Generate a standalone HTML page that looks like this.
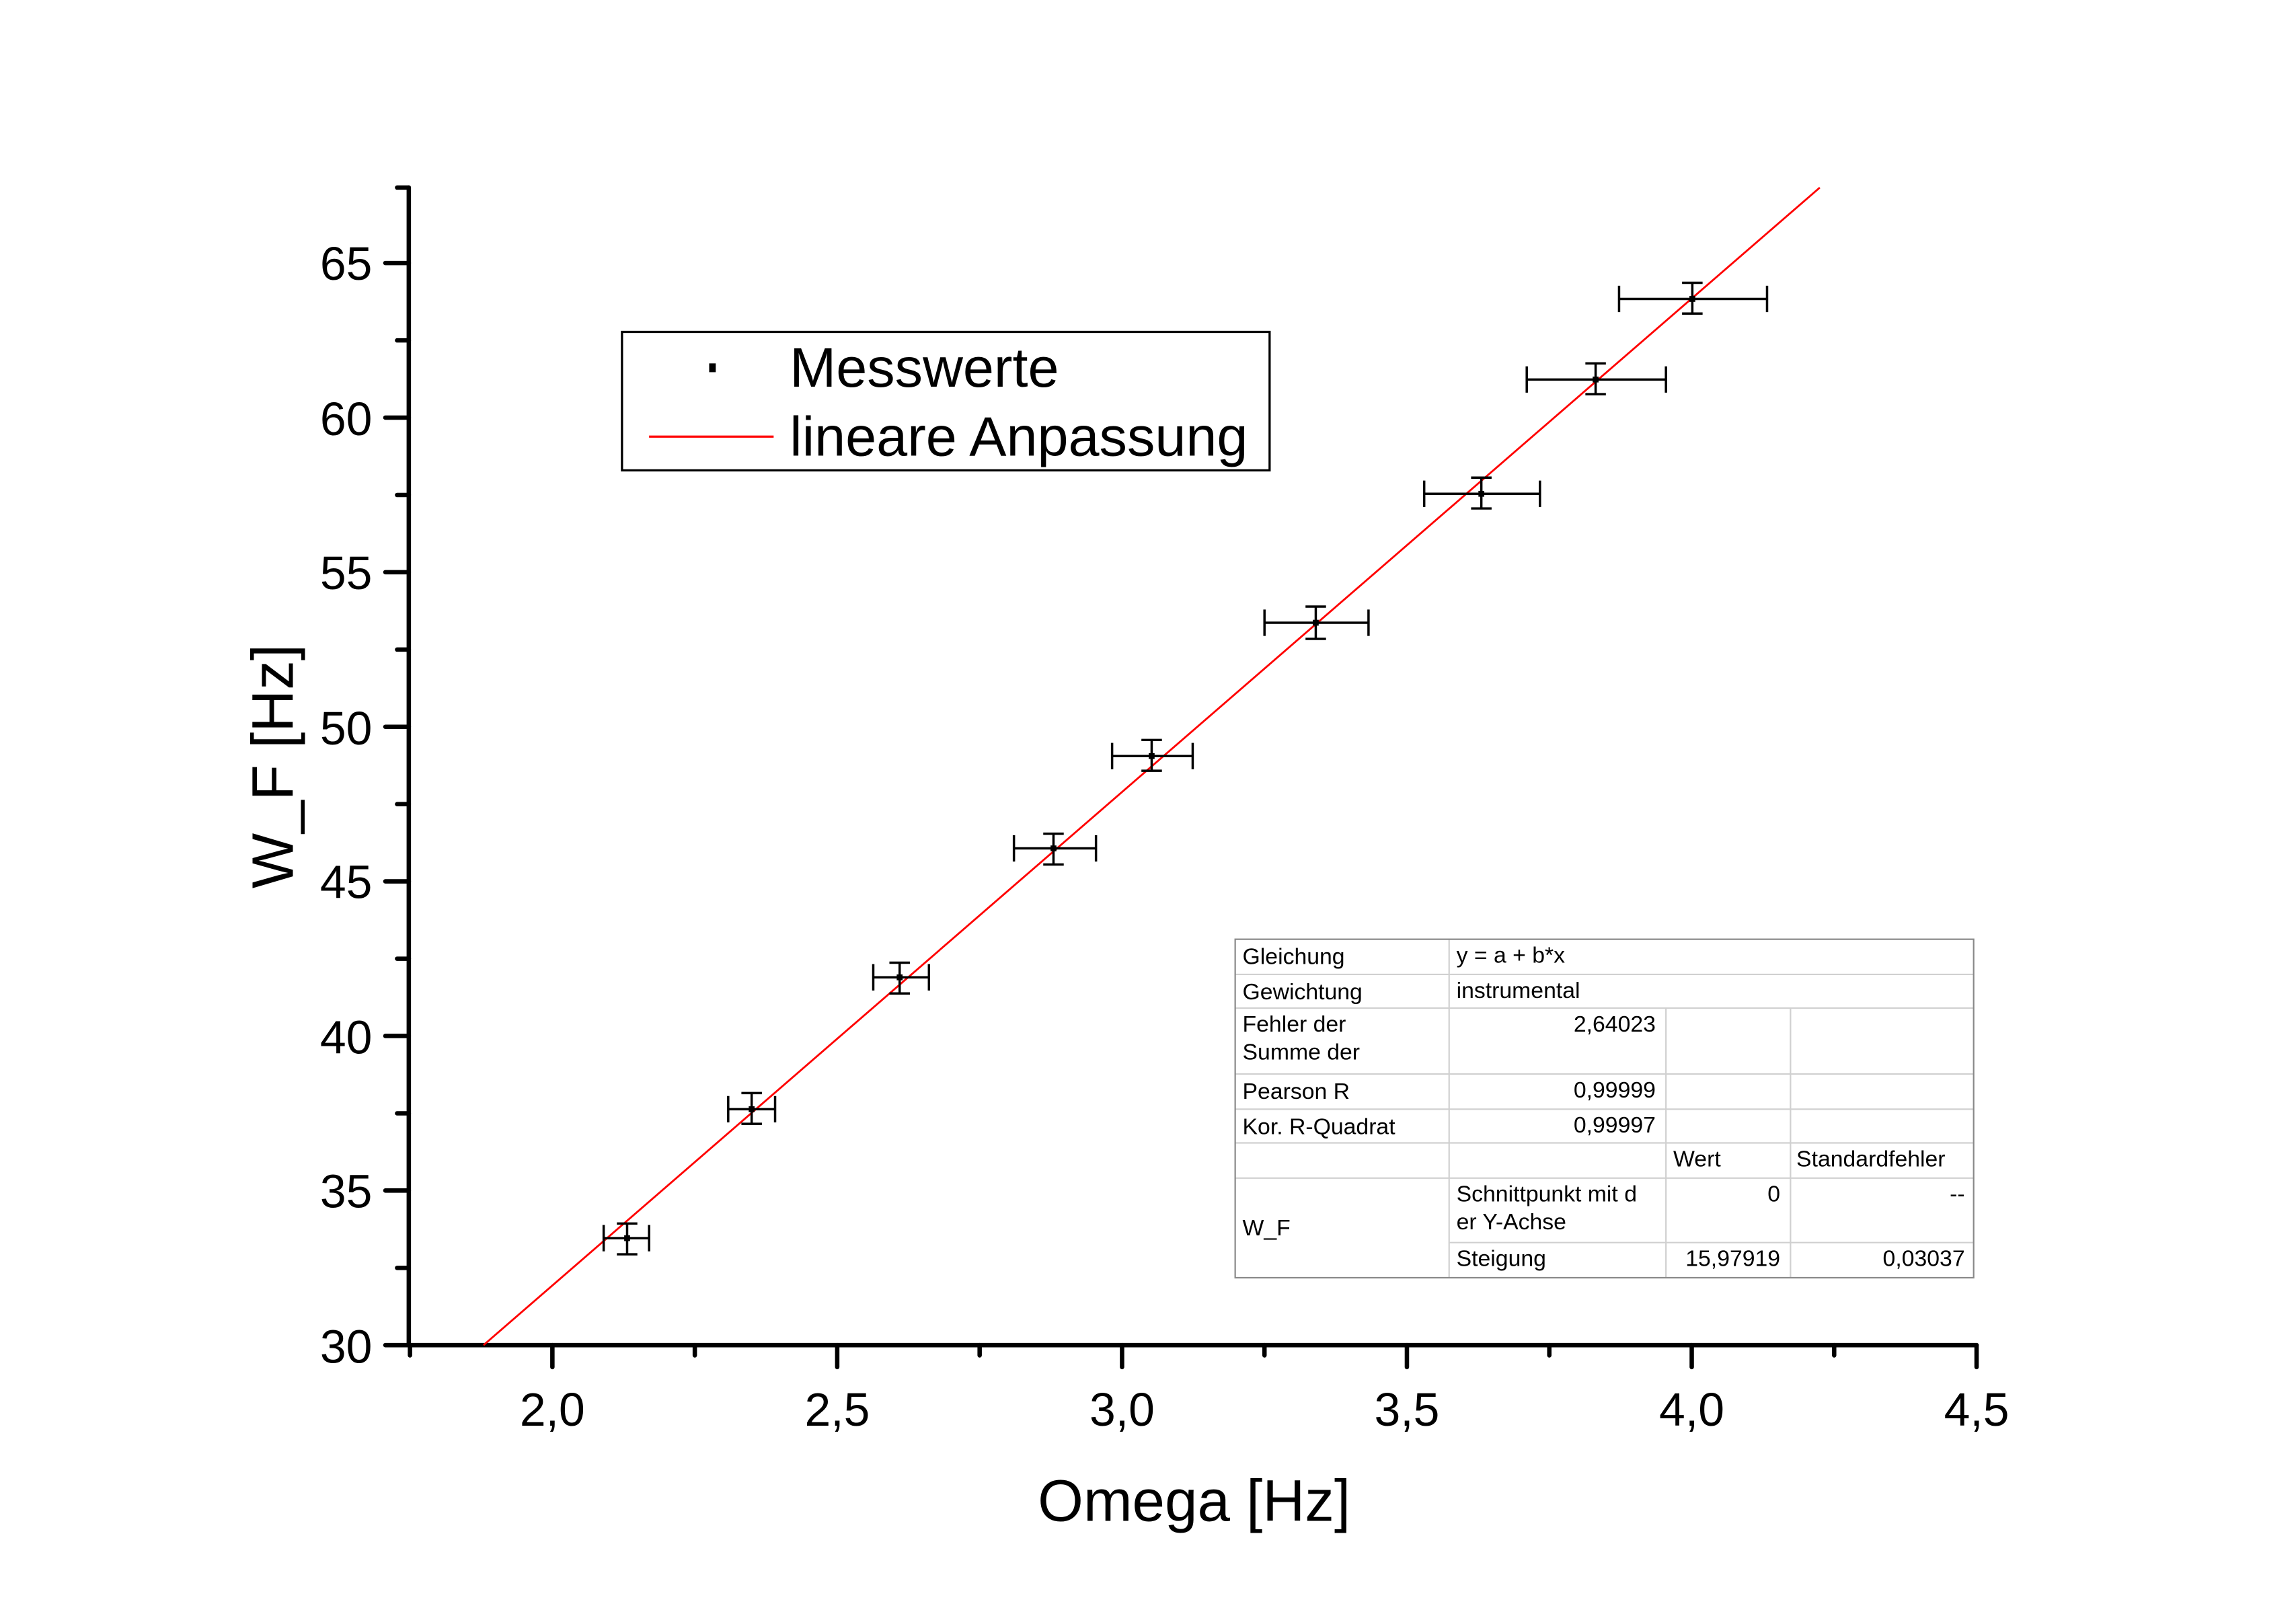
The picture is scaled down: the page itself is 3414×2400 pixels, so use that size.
<!DOCTYPE html>
<html><head><meta charset="utf-8"><style>
html,body{margin:0;padding:0;background:#fff;}
svg{display:block;}
text{font-family:"Liberation Sans",Arial,sans-serif;fill:#000;}
</style></head><body>
<svg width="3414" height="2400" viewBox="0 0 1567 1101.5" preserveAspectRatio="none" xmlns="http://www.w3.org/2000/svg">
<rect x="0" y="0" width="1567" height="1102" fill="#fff"/>
<g stroke="#000" stroke-width="3" stroke-linecap="round" fill="none">
<line x1="279" y1="128" x2="279" y2="918"/>
<line x1="279" y1="918" x2="1349" y2="918"/>
<line x1="263" y1="918" x2="279" y2="918"/>
<line x1="263" y1="812.5" x2="279" y2="812.5"/>
<line x1="263" y1="707" x2="279" y2="707"/>
<line x1="263" y1="601.5" x2="279" y2="601.5"/>
<line x1="263" y1="496" x2="279" y2="496"/>
<line x1="263" y1="390.5" x2="279" y2="390.5"/>
<line x1="263" y1="285" x2="279" y2="285"/>
<line x1="263" y1="179.5" x2="279" y2="179.5"/>
<line x1="271" y1="865.3" x2="279" y2="865.3"/>
<line x1="271" y1="759.8" x2="279" y2="759.8"/>
<line x1="271" y1="654.3" x2="279" y2="654.3"/>
<line x1="271" y1="548.8" x2="279" y2="548.8"/>
<line x1="271" y1="443.3" x2="279" y2="443.3"/>
<line x1="271" y1="337.8" x2="279" y2="337.8"/>
<line x1="271" y1="232.3" x2="279" y2="232.3"/>
<line x1="271" y1="128" x2="279" y2="128"/>
<line x1="377" y1="918" x2="377" y2="933"/>
<line x1="571.4" y1="918" x2="571.4" y2="933"/>
<line x1="765.8" y1="918" x2="765.8" y2="933"/>
<line x1="960.2" y1="918" x2="960.2" y2="933"/>
<line x1="1154.6" y1="918" x2="1154.6" y2="933"/>
<line x1="1349" y1="918" x2="1349" y2="933"/>
<line x1="279.8" y1="918" x2="279.8" y2="925"/>
<line x1="474.2" y1="918" x2="474.2" y2="925"/>
<line x1="668.6" y1="918" x2="668.6" y2="925"/>
<line x1="863" y1="918" x2="863" y2="925"/>
<line x1="1057.4" y1="918" x2="1057.4" y2="925"/>
<line x1="1251.8" y1="918" x2="1251.8" y2="925"/>
</g>
<g font-size="32" text-anchor="end">
<text x="254" y="930">30</text>
<text x="254" y="824">35</text>
<text x="254" y="719">40</text>
<text x="254" y="613">45</text>
<text x="254" y="508">50</text>
<text x="254" y="402">55</text>
<text x="254" y="297">60</text>
<text x="254" y="191">65</text>
</g>
<g font-size="32" text-anchor="middle">
<text x="377" y="973">2,0</text>
<text x="571.4" y="973">2,5</text>
<text x="765.8" y="973">3,0</text>
<text x="960.2" y="973">3,5</text>
<text x="1154.6" y="973">4,0</text>
<text x="1349" y="973">4,5</text>
</g>
<text x="815" y="1038" font-size="40" text-anchor="middle">Omega [Hz]</text>
<text transform="translate(200,523) rotate(-90)" font-size="40" text-anchor="middle">W_F [Hz]</text>
<line x1="330" y1="918" x2="1242" y2="128" stroke="#f00" stroke-width="1.3"/>
<g stroke="#000" stroke-width="1.6" fill="none">
<path d="M412 845H443M412 836V854M443 836V854M428 835V856M421 835H435M421 856H435"/>
<path d="M497 757H529M497 748V766M529 748V766M513 746V767M506 746H520M506 767H520"/>
<path d="M596 667H634M596 658V676M634 658V676M614 657V678M607 657H621M607 678H621"/>
<path d="M692 579H748M692 570V588M748 570V588M719 569V590M712 569H726M712 590H726"/>
<path d="M759 516H814M759 507V525M814 507V525M786 505V526M779 505H793M779 526H793"/>
<path d="M863 425H934M863 416V434M934 416V434M898 414V436M891 414H905M891 436H905"/>
<path d="M972 337H1051M972 328V346M1051 328V346M1011 326V347M1004 326H1018M1004 347H1018"/>
<path d="M1042 259H1137M1042 250V268M1137 250V268M1089 248V269M1082 248H1096M1082 269H1096"/>
<path d="M1105 204H1206M1105 195V213M1206 195V213M1155 193V214M1148 193H1162M1148 214H1162"/>
</g>
<g fill="#000">
<rect x="426" y="843" width="4" height="4"/><rect x="511" y="755" width="4" height="4"/>
<rect x="612" y="665" width="4" height="4"/><rect x="717" y="577" width="4" height="4"/>
<rect x="784" y="514" width="4" height="4"/><rect x="896" y="423" width="4" height="4"/>
<rect x="1009" y="335" width="4" height="4"/><rect x="1087" y="257" width="4" height="4"/>
<rect x="1153" y="202" width="4" height="4"/>
</g>
<rect x="424.5" y="226.5" width="442" height="94.5" fill="#fff" stroke="#000" stroke-width="1.5"/>
<rect x="484" y="248" width="4.5" height="6" fill="#000"/>
<line x1="443" y1="298" x2="528" y2="298" stroke="#f00" stroke-width="1.5"/>
<text x="539" y="264" font-size="38">Messwerte</text>
<text x="539" y="311" font-size="38">lineare Anpassung</text>
<g stroke="#d0d0d0" stroke-width="1" fill="none">
<line x1="843" y1="665" x2="1347" y2="665"/>
<line x1="843" y1="688" x2="1347" y2="688"/>
<line x1="843" y1="733" x2="1347" y2="733"/>
<line x1="843" y1="757" x2="1347" y2="757"/>
<line x1="843" y1="780" x2="1347" y2="780"/>
<line x1="843" y1="804" x2="1347" y2="804"/>
<line x1="989" y1="848" x2="1347" y2="848"/>
<line x1="989" y1="641" x2="989" y2="872"/>
<line x1="1137" y1="688" x2="1137" y2="872"/>
<line x1="1222" y1="688" x2="1222" y2="872"/>
</g>
<rect x="843" y="641" width="504" height="231" fill="none" stroke="#888" stroke-width="1"/>
<g font-size="15.5">
<text x="848" y="658">Gleichung</text>
<text x="994" y="657">y = a + b*x</text>
<text x="848" y="682">Gewichtung</text>
<text x="994" y="681">instrumental</text>
<text x="848" y="704">Fehler der</text>
<text x="848" y="723">Summe der</text>
<text x="848" y="750">Pearson R</text>
<text x="848" y="774">Kor. R-Quadrat</text>
<text x="1142" y="796">Wert</text>
<text x="1226" y="796">Standardfehler</text>
<text x="994" y="820">Schnittpunkt mit d</text>
<text x="994" y="839">er Y-Achse</text>
<text x="848" y="843">W_F</text>
<text x="994" y="864">Steigung</text>
</g>
<g font-size="15.5" text-anchor="end">
<text x="1130" y="704">2,64023</text>
<text x="1130" y="749">0,99999</text>
<text x="1130" y="773">0,99997</text>
<text x="1215" y="820">0</text>
<text x="1341" y="820">--</text>
<text x="1215" y="864">15,97919</text>
<text x="1341" y="864">0,03037</text>
</g>
</svg>
</body></html>
